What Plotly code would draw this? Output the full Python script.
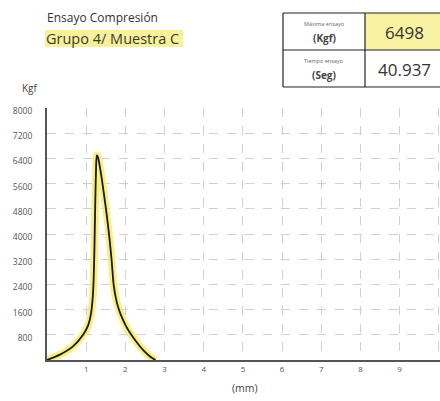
import plotly.graph_objects as go

# Data
disp_mm = [0, 0.33, 0.67, 0.93, 1.05, 1.12, 1.17, 1.19, 1.21, 1.23, 1.25, 1.27, 1.30, 1.36, 1.45, 1.53,
           1.60, 1.65, 1.70, 1.76, 1.83, 1.92, 2.02, 2.13, 2.28, 2.45, 2.62, 2.77]
force_kgf = [0, 170, 440, 820, 1100, 1450, 2030, 2550, 3500, 4870, 6000, 6498, 6440, 6050, 5300, 4550,
             3800, 3150, 2400, 1950, 1620, 1330, 1070, 840, 580, 320, 120, 0]

x_ticks = [1, 2, 3, 4, 5, 6, 7, 8, 9, 10]
y_ticks = [800, 1600, 2400, 3200, 4000, 4800, 5600, 6400, 7200, 8000]

title1 = "Ensayo Compresión"
title2 = "Grupo 4/ Muestra C"
table_labels = [("Máxima ensayo", "(Kgf)"), ("Tiempo ensayo", "(Seg)")]
table_values = ["6498", "40.937"]

W, H = 440, 401
ML, MR, MT, MB = 47, 0, 108, 41
PW, PH = W - ML - MR, H - MT - MB


def px(x):
    return (x - ML) / PW


def py(y):
    return (H - MB - y) / PH


FONT = "Open Sans"

fig = go.Figure()
fig.add_trace(go.Scatter(x=disp_mm, y=force_kgf, mode="lines",
                         line=dict(color="rgba(248,236,100,0.8)", width=7.5, shape="spline", smoothing=0.6),
                         hoverinfo="skip", showlegend=False))
fig.add_trace(go.Scatter(x=disp_mm, y=force_kgf, mode="lines",
                         line=dict(color="#1a1a1a", width=1.8, shape="spline", smoothing=0.6),
                         showlegend=False))

shapes = []
# table
tx0, tx1, tx2 = 283, 365, 450
ty0, ty1, ty2 = 13, 50, 87
shapes.append(dict(type="rect", xref="paper", yref="paper", x0=px(tx1), x1=px(tx2), y0=py(ty1), y1=py(ty0),
                   fillcolor="#f9f2a2", line=dict(width=0), layer="above"))
for (a, b, c, d) in [(tx0, ty0, tx2, ty0), (tx0, ty1, tx2, ty1), (tx0, ty2, tx2, ty2),
                     (tx0, ty0, tx0, ty2), (tx1, ty0, tx1, ty2)]:
    shapes.append(dict(type="line", xref="paper", yref="paper", x0=px(a), y0=py(b), x1=px(c), y1=py(d),
                       line=dict(color="#222", width=1.2), layer="above"))
# highlight behind subtitle
shapes.append(dict(type="rect", xref="paper", yref="paper", x0=px(45), x1=px(183), y0=py(47), y1=py(30),
                   fillcolor="#f8f19c", line=dict(width=0), layer="below"))


def note(text, x, y, size, color, xanchor="center"):
    return dict(text=text, x=px(x), y=py(y), xref="paper", yref="paper", xanchor=xanchor, yanchor="middle",
                showarrow=False, font=dict(family=FONT, size=size, color=color))


ann = [
    note(title1, 45, 18, 12, "#333", "left"),
    note(title2, 44, 38.5, 14.5, "#3a3a2a", "left"),
]
for i, (small, big) in enumerate(table_labels):
    yc = [ty0, ty1][i]
    ann.append(note(small, (tx0 + tx1) / 2, yc + 11, 5.5, "#666"))
    ann.append(note("<b>" + big + "</b>", (tx0 + tx1) / 2, yc + 25, 10, "#444"))
    ann.append(note(table_values[i], 404, yc + 19.5, 17, "#333"))
ann.append(note("Kgf", 30, 88, 10, "#444"))
ann.append(note("(mm)", 245, 388, 10.5, "#444"))

fig.update_layout(
    width=W, height=H, margin=dict(l=ML, r=MR, t=MT, b=MB, autoexpand=False),
    paper_bgcolor="white", plot_bgcolor="white",
    shapes=shapes, annotations=ann, showlegend=False,
    xaxis=dict(range=[0, 10.03], tickvals=x_ticks, ticktext=[str(v) for v in x_ticks],
               showgrid=True, gridcolor="#d0d0d0", griddash="dash", gridwidth=1,
               showline=True, linecolor="#555", linewidth=2, zeroline=False, automargin=False,
               ticks="", tickfont=dict(family=FONT, size=8, color="#555"), fixedrange=True),
    yaxis=dict(range=[0, 8000], tickvals=y_ticks, ticktext=[str(v) for v in y_ticks],
               showgrid=True, gridcolor="#d0d0d0", griddash="dash", gridwidth=1,
               showline=True, linecolor="#555", linewidth=2, zeroline=False, automargin=False,
               ticks="", ticklabelstandoff=11, ticklabelshift=3,
               tickfont=dict(family=FONT, size=8.5, color="#555"), fixedrange=True),
)

fig.write_html("out.html", config={"displayModeBar": False},
               post_script="document.body.style.margin='0';")
